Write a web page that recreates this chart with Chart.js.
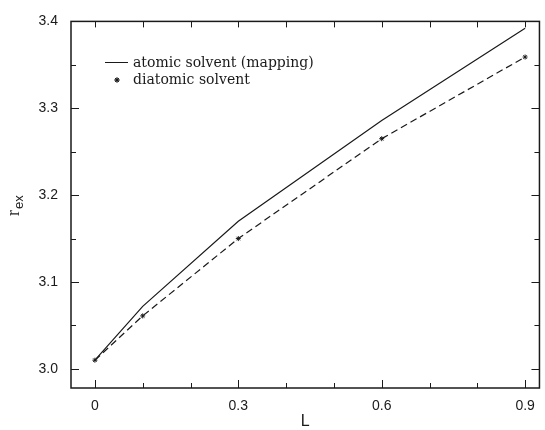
<!DOCTYPE html>
<html>
<head>
<meta charset="utf-8">
<script src="https://cdn.jsdelivr.net/npm/chart.js@4"></script>
<style>
  html, body { margin: 0; padding: 0; background: #fff; }
  #wrap { width: 545px; height: 430px; }
</style>
</head>
<body>
<div id="wrap"><canvas id="chart"></canvas></div>
<script>
// values
const L = [0, 0.1, 0.3, 0.6, 0.9];
const atomic = [3.01, 3.072, 3.17, 3.286, 3.392];
const diatomic = [3.01, 3.061, 3.15, 3.265, 3.359];
const xMajor = [0, 0.3, 0.6, 0.9];
const xMinor = [0.1, 0.2, 0.4, 0.5, 0.7, 0.8];
const yMajor = [3.0, 3.1, 3.2, 3.3, 3.4];
const yMinor = [3.05, 3.15, 3.25, 3.35];
const seriesNames = ["atomic solvent (mapping)", "diatomic solvent"];

const ink = "#1a1a1a";
const tickFont = { family: "Liberation Sans", size: 14 };

// frame, inside ticks, legend and the y title
const framePlugin = {
    id: "frame",
    afterDraw(chart) {
        const ctx = chart.ctx;
        const a = chart.chartArea;
        const xs = chart.scales.x;
        const ys = chart.scales.y;
        ctx.save();
        ctx.strokeStyle = ink;
        ctx.lineWidth = 1.5;
        ctx.strokeRect(a.left, a.top, a.right - a.left, a.bottom - a.top);

        ctx.lineWidth = 1;
        ctx.beginPath();
        xMajor.concat(xMinor).forEach(v => {
            const px = Math.round(xs.getPixelForValue(v)) + 0.5;
            const len = xMajor.includes(v) ? 8 : 5;
            ctx.moveTo(px, a.bottom); ctx.lineTo(px, a.bottom - len);
            ctx.moveTo(px, a.top); ctx.lineTo(px, a.top + 6);
        });
        yMajor.concat(yMinor).forEach(v => {
            const py = Math.round(ys.getPixelForValue(v)) + 0.5;
            const len = yMajor.includes(v) ? 8 : 5;
            ctx.moveTo(a.left, py); ctx.lineTo(a.left + len, py);
            ctx.moveTo(a.right, py); ctx.lineTo(a.right - len, py);
        });
        ctx.stroke();

        // legend
        ctx.fillStyle = ink;
        ctx.font = "14px 'DejaVu Serif'";
        ctx.textBaseline = "middle";
        ctx.textAlign = "left";
        ctx.beginPath();
        ctx.moveTo(105, 62.5); ctx.lineTo(128, 62.5);
        ctx.stroke();
        ctx.fillText(seriesNames[0], 133, 63);
        Chart.helpers.drawPoint(ctx, { pointStyle: "star", radius: 2.5, rotation: 0, borderWidth: 1 }, 117, 80);
        ctx.stroke();
        ctx.fillText(seriesNames[1], 133, 80);

        // y title r_ex
        ctx.translate(19, 216);
        ctx.rotate(-Math.PI / 2);
        ctx.textBaseline = "alphabetic";
        ctx.font = "18px 'Liberation Serif'";
        ctx.fillText("r", 0, 0);
        const w = ctx.measureText("r").width;
        ctx.font = "13px 'Liberation Sans'";
        ctx.fillText("ex", w + 1, 4);
        ctx.restore();
    }
};

new Chart(document.getElementById("chart"), {
    type: "line",
    data: {
        datasets: [{
            label: seriesNames[0],
            data: L.map((x, i) => ({ x: x, y: atomic[i] })),
            borderColor: ink,
            borderWidth: 1.2,
            pointRadius: 0,
            tension: 0
        }, {
            label: seriesNames[1],
            data: L.map((x, i) => ({ x: x, y: diatomic[i] })),
            borderColor: ink,
            borderWidth: 1.2,
            borderDash: [7, 4],
            pointStyle: "star",
            pointRadius: 2.5,
            pointBorderWidth: 1,
            pointBorderColor: ink,
            pointBackgroundColor: ink,
            tension: 0
        }]
    },
    options: {
        responsive: true,
        maintainAspectRatio: false,
        animation: false,
        layout: { padding: { top: 19, right: 4, left: 0, bottom: 0 } },
        plugins: { legend: { display: false }, tooltip: { enabled: false } },
        scales: {
            x: {
                type: "linear",
                min: -0.05,
                max: 0.93,
                grid: { display: false, drawTicks: false },
                border: { display: false },
                afterBuildTicks: s => { s.ticks = xMajor.map(v => ({ value: v })); },
                afterFit: s => { s.height = 42; },
                ticks: {
                    color: ink,
                    font: tickFont,
                    padding: 10,
                    maxRotation: 0,
                    callback: v => (v === 0 ? "0" : v.toFixed(1))
                },
                title: {
                    display: true,
                    text: "L",
                    color: ink,
                    font: { family: "Liberation Sans", size: 16, lineHeight: 1 },
                    padding: { top: 0, bottom: 0 }
                }
            },
            y: {
                min: 2.978,
                max: 3.4,
                grid: { display: false, drawTicks: false },
                border: { display: false },
                afterBuildTicks: s => { s.ticks = yMajor.map(v => ({ value: v })); },
                afterFit: s => { s.width = 71; },
                ticks: {
                    color: ink,
                    font: tickFont,
                    padding: 13,
                    callback: v => v.toFixed(1)
                }
            }
        }
    },
    plugins: [framePlugin]
});
</script>
</body>
</html>
